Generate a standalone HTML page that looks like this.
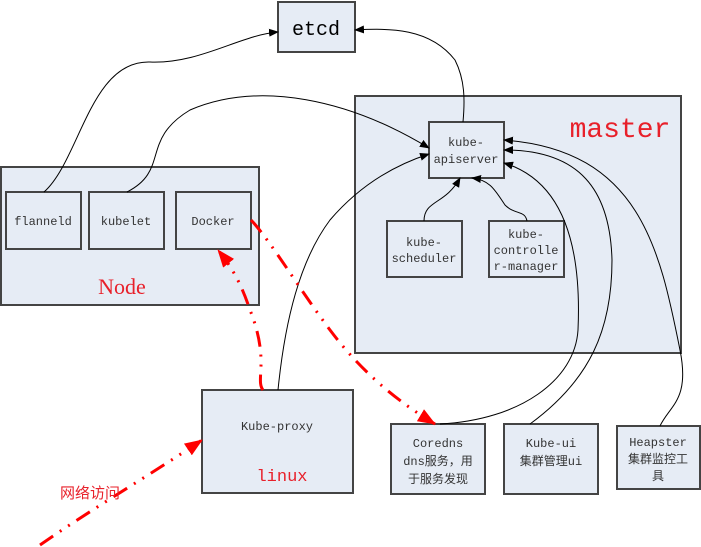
<!DOCTYPE html>
<html><head><meta charset="utf-8"><style>body{margin:0;background:#fff}svg{display:block}</style></head><body>
<svg width="701" height="547" xmlns="http://www.w3.org/2000/svg" font-family="'Liberation Mono','Noto Sans CJK SC',monospace">
<defs>
<marker id="a" markerWidth="10" markerHeight="8" refX="9" refY="4" orient="auto" markerUnits="userSpaceOnUse"><path d="M0,0 L10,4 L0,8 Z" fill="#000"/></marker>
<marker id="r" markerWidth="18" markerHeight="14" refX="17" refY="7" orient="auto" markerUnits="userSpaceOnUse"><path d="M0,0 L18,7 L0,14 Z" fill="#f00"/></marker>
</defs>
<g fill="#e6ecf5" stroke="#444" stroke-width="2">
<rect x="278" y="2" width="77" height="50"/>
<rect x="1" y="167" width="258" height="138"/>
<rect x="6" y="192" width="75" height="57"/>
<rect x="89" y="192" width="75" height="57"/>
<rect x="176" y="192" width="75" height="57"/>
<rect x="355" y="96" width="326" height="257"/>
<rect x="429" y="122" width="75" height="56"/>
<rect x="387" y="221" width="75" height="56"/>
<rect x="489" y="221" width="75" height="56"/>
<rect x="202" y="390" width="151" height="103"/>
<rect x="391" y="424" width="94" height="70"/>
<rect x="504" y="424" width="94" height="70"/>
<rect x="617" y="426" width="83" height="63"/>
</g>
<g fill="none" stroke="#000" stroke-width="1">
<path d="M44,192 C80,160 90,60 150,62 C200,64 240,35 278,32" marker-end="url(#a)"/>
<path d="M127,192 C170,170 140,140 190,110 C260,80 350,100 429,148" marker-end="url(#a)"/>
<path d="M463,122 C465,100 465,80 455,60 C430,28 390,28 355,30" marker-end="url(#a)"/>
<path d="M424,221 C424,200 445,205 460,178" marker-end="url(#a)"/>
<path d="M527,221 C525,210 515,215 505,205 C495,190 490,180 472,178" marker-end="url(#a)"/>
<path d="M278,390 C285,320 300,260 330,220 C360,185 395,165 429,154" marker-end="url(#a)"/>
<path d="M440,424 C520,420 575,380 578,330 C582,240 560,180 504,163" marker-end="url(#a)"/>
<path d="M530,424 C590,380 612,330 612,260 C610,190 580,150 504,150" marker-end="url(#a)"/>
<path d="M660,426 C670,405 690,400 680,350 C660,250 640,150 504,140" marker-end="url(#a)"/>
</g>
<g fill="none" stroke="#f00" stroke-width="3" stroke-dasharray="16,8,2,8,2,8">
<path d="M251,220 C270,240 300,290 330,330 C360,370 395,400 435,424" marker-end="url(#r)"/>
<path d="M263,390 C255,380 270,360 250,310 C240,280 230,265 218,250" marker-end="url(#r)"/>
<path d="M40,545 C90,510 150,475 202,440" marker-end="url(#r)"/>
</g>
<g font-size="12" fill="#333" text-anchor="middle">
<text x="316" y="35" font-size="20" fill="#000">etcd</text>
<text x="43" y="225">flanneld</text>
<text x="126" y="225">kubelet</text>
<text x="213" y="225">Docker</text>
<text x="466" y="146">kube-</text><text x="466" y="163">apiserver</text>
<text x="424" y="246">kube-</text><text x="424" y="262">scheduler</text>
<text x="526" y="238">kube-</text><text x="526" y="254">controlle</text><text x="526" y="270">r-manager</text>
<text x="277" y="430">Kube-proxy</text>
<text x="438" y="447">Coredns</text><text x="438" y="465">dns服务，用</text><text x="438" y="483">于服务发现</text>
<text x="551" y="447">Kube-ui</text><text x="551" y="465">集群管理ui</text>
<text x="658" y="446">Heapster</text><text x="658" y="463">集群监控工</text><text x="658" y="480">具</text>
</g>
<g fill="#e8202a" font-family="'Liberation Serif','Noto Serif CJK SC',serif" text-anchor="middle">
<text x="122" y="294" font-size="22">Node</text>
<text x="620" y="137" font-size="28" font-family="'Liberation Mono',monospace">master</text>
<text x="282" y="481" font-size="17" font-family="'Liberation Mono',monospace">linux</text>
<text x="90" y="498" font-size="15" font-family="'Liberation Sans','Noto Sans CJK SC',sans-serif">网络访问</text>
</g>
</svg>
</body></html>
